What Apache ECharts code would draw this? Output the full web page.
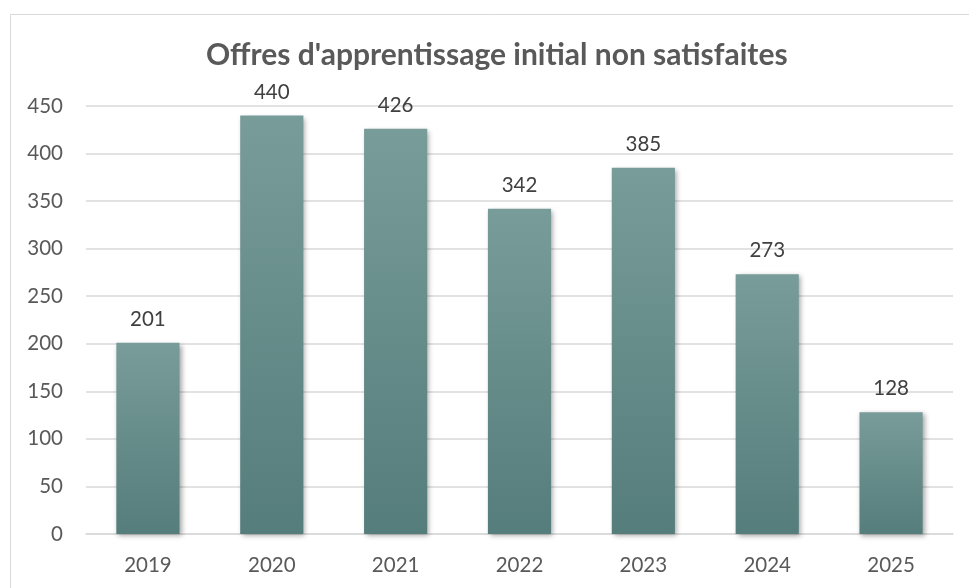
<!DOCTYPE html>
<html>
<head>
<meta charset="utf-8">
<style>
  html, body { margin: 0; padding: 0; background: #ffffff; }
  #chart { width: 969px; height: 588px; }
</style>
<script src="https://cdn.jsdelivr.net/npm/echarts@6/dist/echarts.min.js"></script>
</head>
<body>
<div id="chart"></div>
<script>
// Unmet initial apprenticeship offers per year
const years = ['2019', '2020', '2021', '2022', '2023', '2024', '2025'];
const offres = [201, 440, 426, 342, 385, 273, 128];
const yTicks = { min: 0, max: 450, interval: 50 };

const chart = echarts.init(document.getElementById('chart'), null, { renderer: 'canvas' });

const fontFamily = 'Lato, "Open Sans", "Liberation Sans", sans-serif';

chart.setOption({
  backgroundColor: '#ffffff',
  animation: false,
  graphic: [{
    type: 'rect',
    shape: { x: 10.5, y: 14.5, width: 1200, height: 1200 },
    style: { fill: 'none', stroke: '#d9d9d9', lineWidth: 1 },
    silent: true,
    z: -1
  }],
  title: {
    text: "Offres d'apprentissage initial non satisfaites",
    left: 206,
    top: 40,
    padding: 0,
    textStyle: {
      fontFamily: fontFamily,
      fontSize: 30,
      fontWeight: 'bold',
      color: '#595959'
    }
  },
  grid: { left: 86, right: 16, top: 106, bottom: 54 },
  xAxis: {
    type: 'category',
    data: years,
    axisLine: { lineStyle: { color: '#d9d9d9', width: 1.5 } },
    axisTick: { show: false },
    axisLabel: {
      color: '#595959',
      fontFamily: fontFamily,
      fontSize: 20.5,
      margin: 21
    }
  },
  yAxis: {
    type: 'value',
    min: yTicks.min,
    max: yTicks.max,
    interval: yTicks.interval,
    axisLine: { show: false },
    axisTick: { show: false },
    splitLine: { lineStyle: { color: '#d9d9d9', width: 1.5 } },
    axisLabel: {
      color: '#595959',
      fontFamily: fontFamily,
      fontSize: 20.5,
      margin: 23
    }
  },
  series: [{
    type: 'bar',
    data: offres,
    barWidth: '51%',
    itemStyle: {
      color: new echarts.graphic.LinearGradient(0, 0, 0, 1, [
        { offset: 0, color: '#789c9a' },
        { offset: 1, color: '#557d7b' }
      ]),
      shadowColor: 'rgba(0,0,0,0.35)',
      shadowBlur: 5,
      shadowOffsetX: 2,
      shadowOffsetY: 2
    },
    label: {
      show: true,
      position: 'top',
      distance: 13,
      color: '#404040',
      fontFamily: fontFamily,
      fontSize: 20.5
    }
  }]
});
</script>
</body>
</html>
